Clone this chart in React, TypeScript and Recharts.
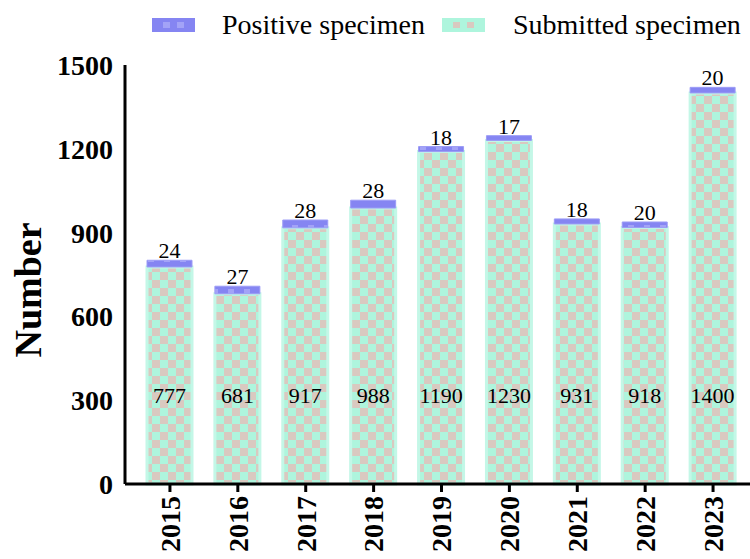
import React from 'react';
import { BarChart, Bar, XAxis, YAxis, LabelList } from 'recharts';

const years = ['2015', '2016', '2017', '2018', '2019', '2020', '2021', '2022', '2023'];
const submitted = [777, 681, 917, 988, 1190, 1230, 931, 918, 1400];
const positive = [24, 27, 28, 28, 18, 17, 18, 20, 20];
const yTicks = [0, 300, 600, 900, 1200, 1500];

const data = years.map((year, i) => ({
  year,
  submitted: submitted[i],
  positive: positive[i],
}));

const FONT = '"Liberation Serif", "Times New Roman", serif';
const TEAL = '#aef5dd';
const PINK = '#d9c9c0';
const BLUE = '#8585f2';
const BLUE_LIGHT = '#a3a3f7';

const YearTick = (props: any) => {
  const { x, y, payload } = props;
  return (
    <text
      transform={`translate(${x},${y + 2}) rotate(-90)`}
      textAnchor="end"
      dy="0.35em"
      fontFamily={FONT}
      fontWeight="bold"
      fontSize={28}
      fill="#000"
    >
      {payload.value}
    </text>
  );
};

const SubmittedLabel = (props: any) => {
  const { x, y, width, height, value } = props;
  return (
    <text
      x={x + width / 2}
      y={y + height - 89}
      textAnchor="middle"
      dominantBaseline="central"
      fontFamily={FONT}
      fontSize={22}
      fill="#000"
    >
      {value}
    </text>
  );
};

const YTitle = () => (
  <text
    transform="translate(28,290) rotate(-90)"
    textAnchor="middle"
    dominantBaseline="central"
    fontFamily={FONT}
    fontWeight="bold"
    fontSize={38}
    fill="#000"
  >
    Number
  </text>
);

const Swatch = ({ base, dot, left }: { base: string; dot: string; left: number }) => (
  <svg width={43} height={14} style={{ position: 'absolute', left, top: 18 }}>
    <rect x={0} y={0} width={43} height={14} fill={base} />
    <rect x={11} y={4} width={7} height={6} fill={dot} />
    <rect x={25} y={4} width={7} height={6} fill={dot} />
  </svg>
);

const legendText: React.CSSProperties = {
  position: 'absolute',
  top: 8,
  fontFamily: FONT,
  fontSize: 28,
  lineHeight: '34px',
  color: '#000',
  whiteSpace: 'nowrap',
};

const App: React.FC = () => {
  return (
    <div style={{ position: 'absolute', left: 0, top: 0, width: 750, height: 559, background: '#fff' }}>
      <Swatch base={BLUE} dot={BLUE_LIGHT} left={152} />
      <span style={{ ...legendText, left: 222 }}>Positive specimen</span>
      <Swatch base={TEAL} dot={PINK} left={442} />
      <span style={{ ...legendText, left: 513 }}>Submitted specimen</span>
      <BarChart
        width={750}
        height={559}
        data={data}
        margin={{ top: 65, right: 0, bottom: 0, left: 0 }}
        barSize={45}
      >
        <defs>
          <pattern id="checkTeal" width={16} height={16} patternUnits="userSpaceOnUse">
            <rect width={16} height={16} fill={TEAL} />
            <rect x={0} y={0} width={8} height={8} fill={PINK} />
            <rect x={8} y={8} width={8} height={8} fill={PINK} />
          </pattern>
          <pattern id="checkBlue" width={16} height={16} patternUnits="userSpaceOnUse">
            <rect width={16} height={16} fill={BLUE} />
            <rect x={4} y={1} width={6} height={5} fill={BLUE_LIGHT} />
          </pattern>
        </defs>
        <XAxis
          dataKey="year"
          height={75}
          padding={{ left: 11, right: 3 }}
          axisLine={{ stroke: '#000', strokeWidth: 3 }}
          tickLine={{ stroke: '#000', strokeWidth: 3 }}
          tickSize={8}
          tick={<YearTick />}
          interval={0}
        />
        <YAxis
          width={125}
          domain={[0, 1500]}
          ticks={yTicks}
          interval={0}
          axisLine={{ stroke: '#000', strokeWidth: 3 }}
          tickLine={false}
          tickMargin={6}
          tick={{ fill: '#000', fontFamily: FONT, fontWeight: 'bold', fontSize: 28 }}
          label={<YTitle />}
        />
        <Bar
          dataKey="submitted"
          stackId="a"
          fill="url(#checkTeal)"
          stroke="#c4f7e7"
          strokeWidth={3}
          isAnimationActive={false}
        >
          <LabelList dataKey="submitted" content={<SubmittedLabel />} />
        </Bar>
        <Bar
          dataKey="positive"
          stackId="a"
          fill="url(#checkBlue)"
          stroke="#9c9cf6"
          strokeWidth={1}
          isAnimationActive={false}
        >
          <LabelList
            dataKey="positive"
            position="top"
            offset={2}
            style={{ fontFamily: FONT, fontSize: 22, fill: '#000' }}
          />
        </Bar>
      </BarChart>
    </div>
  );
};

export default App;
